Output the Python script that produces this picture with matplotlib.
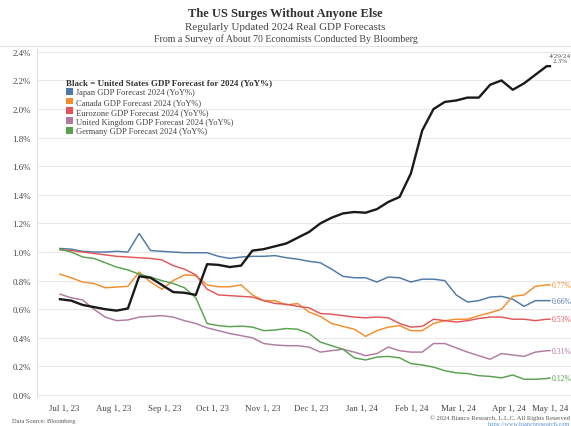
import matplotlib
matplotlib.use("Agg")
import matplotlib.pyplot as plt
import matplotlib.dates as mdates
import matplotlib.transforms as mtransforms
from matplotlib.lines import Line2D
from matplotlib.patches import Patch
import pandas as pd

SERIF = ["Liberation Serif", "DejaVu Serif"]
plt.rcParams["font.family"] = SERIF

# weekly readings of the 2024 forecasts, last point is the latest survey
dates = pd.date_range("2023-07-01", "2024-04-27", freq="7D").append(pd.DatetimeIndex(["2024-04-29"]))

us = [0.67, 0.66, 0.63, 0.615, 0.60, 0.59, 0.605, 0.83, 0.82, 0.77,
      0.72, 0.715, 0.70, 0.915, 0.91, 0.895, 0.905, 1.01, 1.02, 1.04,
      1.06, 1.10, 1.14, 1.20, 1.24, 1.27, 1.28, 1.275, 1.30, 1.35,
      1.385, 1.55, 1.85, 2.00, 2.05, 2.06, 2.08, 2.08, 2.17, 2.20,
      2.135, 2.18, 2.24, 2.30, 2.30]
japan = [1.025, 1.02, 1.005, 1.0, 1.0, 1.005, 1.0, 1.13, 1.01, 1.005,
         1.0, 0.995, 0.995, 0.995, 0.97, 0.955, 0.965, 0.97, 0.97, 0.975,
         0.96, 0.95, 0.935, 0.925, 0.88, 0.83, 0.82, 0.82, 0.79, 0.825,
         0.82, 0.79, 0.81, 0.81, 0.80, 0.70, 0.65, 0.66, 0.685, 0.69,
         0.67, 0.62, 0.66, 0.66, 0.66]
canada = [0.845, 0.82, 0.79, 0.78, 0.75, 0.755, 0.76, 0.86, 0.79, 0.74,
          0.80, 0.84, 0.835, 0.77, 0.757, 0.757, 0.77, 0.70, 0.66, 0.66,
          0.63, 0.64, 0.58, 0.55, 0.50, 0.48, 0.46, 0.41, 0.45, 0.475,
          0.485, 0.45, 0.45, 0.50, 0.52, 0.53, 0.53, 0.555, 0.575, 0.60,
          0.69, 0.70, 0.76, 0.77, 0.77]
eurozone = [1.015, 1.01, 1.0, 0.99, 0.98, 0.97, 0.965, 0.96, 0.955, 0.945,
            0.905, 0.88, 0.84, 0.74, 0.70, 0.695, 0.69, 0.685, 0.66, 0.64,
            0.635, 0.62, 0.61, 0.57, 0.565, 0.555, 0.545, 0.54, 0.545, 0.54,
            0.50, 0.475, 0.48, 0.53, 0.52, 0.51, 0.52, 0.535, 0.545, 0.545,
            0.53, 0.53, 0.52, 0.53, 0.53]
uk = [0.705, 0.68, 0.665, 0.60, 0.545, 0.52, 0.525, 0.545, 0.55, 0.555,
      0.545, 0.52, 0.50, 0.47, 0.45, 0.43, 0.415, 0.40, 0.36, 0.35,
      0.345, 0.345, 0.335, 0.30, 0.31, 0.32, 0.30, 0.275, 0.29, 0.335,
      0.31, 0.30, 0.30, 0.36, 0.36, 0.33, 0.30, 0.275, 0.25, 0.29,
      0.28, 0.27, 0.30, 0.31, 0.31]
germany = [1.02, 1.0, 0.965, 0.955, 0.925, 0.895, 0.875, 0.845, 0.825, 0.80,
           0.78, 0.75, 0.68, 0.50, 0.485, 0.478, 0.482, 0.475, 0.45, 0.455,
           0.465, 0.46, 0.43, 0.37, 0.345, 0.32, 0.26, 0.245, 0.265, 0.27,
           0.26, 0.22, 0.21, 0.195, 0.17, 0.155, 0.15, 0.135, 0.13, 0.12,
           0.14, 0.11, 0.11, 0.115, 0.12]

others = [
    ("Japan GDP Forecast 2024 (YoY%)", japan, "#4e79a7", "0.66%"),
    ("Canada GDP Forecast 2024 (YoY%)", canada, "#f28e2b", "0.77%"),
    ("Eurozone GDP Forecast 2024 (YoY%)", eurozone, "#e15759", "0.53%"),
    ("United Kingdom GDP Forecast 2024 (YoY%)", uk, "#b07aa1", "0.31%"),
    ("Germany GDP Forecast 2024 (YoY%)", germany, "#59a14f", "0.12%"),
]

month_ticks = pd.date_range("2023-07-01", "2024-05-01", freq="MS")
month_labels = ["Jul 1, 23", "Aug 1, 23", "Sep 1, 23", "Oct 1, 23", "Nov 1, 23", "Dec 1, 23",
                "Jan 1, 24", "Feb 1, 24", "Mar 1, 24", "Apr 1, 24", "May 1, 24"]
y_ticks = [0.0, 0.2, 0.4, 0.6, 0.8, 1.0, 1.2, 1.4, 1.6, 1.8, 2.0, 2.2, 2.4]

W, H = 571, 427
fig = plt.figure(figsize=(W / 100, H / 100), dpi=100)
ax = fig.add_axes([36.5 / W, (H - 398) / H, 1 - 36.5 / W, 348 / H])

for label, vals, color, end_txt in others:
    ax.plot(dates, vals, color=color, lw=1.05, zorder=2)
    ax.annotate(end_txt, (dates[-1], vals[-1]), xytext=(1.2, 0), textcoords="offset points",
                ha="left", va="center", fontsize=5.6, color=color)
ax.plot(dates, us, color="#1a1a1a", lw=1.7, zorder=3)
ax.annotate("4/29/24\n2.3%", (dates[-1], us[-1]), xytext=(7.5, 2.5), textcoords="offset points",
            ha="center", va="bottom", fontsize=5.2, color="#555555", linespacing=0.95)

ax.set_xlim(mdates.date2num(pd.Timestamp("2023-06-16 12:00")),
            mdates.date2num(pd.Timestamp("2024-05-12")))
ax.set_ylim(-0.014, 2.42)
ax.set_xticks(month_ticks)
ax.set_xticklabels(month_labels)
ax.set_yticks(y_ticks)
ax.set_yticklabels([f"{v:.1f}%" for v in y_ticks])
ax.tick_params(axis="both", length=0, labelsize=6.4, labelcolor="#444444")
ax.tick_params(axis="x", pad=5)
ax.tick_params(axis="y", pad=4)
ax.grid(axis="y", color="#e8e8e8", lw=0.8)
for side in ["top", "right", "bottom"]:
    ax.spines[side].set_visible(False)
ax.spines["left"].set_color("#e0e0e0")
ax.spines["left"].set_linewidth(0.8)

# date labels sit a little right of their month start (the last one stays inside the frame)
shift = mtransforms.ScaledTranslation(4 / 100, 0, fig.dpi_scale_trans)
for lbl in ax.get_xticklabels()[:-1]:
    lbl.set_transform(lbl.get_transform() + shift)
ax.get_xticklabels()[-1].set_horizontalalignment("right")
ax.get_xticklabels()[-1].set_transform(
    ax.get_xticklabels()[-1].get_transform() + mtransforms.ScaledTranslation(15 / 100, 0, fig.dpi_scale_trans))

handles = [Patch(facecolor=c, edgecolor="none") for _, _, c, _ in others]
leg = ax.legend(handles, [lbl for lbl, _, _, _ in others],
                title="Black = United States GDP Forecast for 2024 (YoY%)",
                loc="upper left", bbox_to_anchor=(62 / W, 1 - 75 / H), bbox_transform=fig.transFigure,
                frameon=False, fontsize=6.1, handlelength=0.85, handleheight=0.85,
                handletextpad=0.35, labelspacing=0.18, borderpad=0, alignment="left",
                title_fontproperties={"weight": "bold", "size": 6.5})
for t in leg.get_texts():
    t.set_color("#444444")
leg.get_title().set_color("#333333")

# header
fig.text(0.5, 1 - 14 / H, "The US Surges Without Anyone Else", ha="center", va="center",
         fontsize=9.0, fontweight="bold", color="#333333")
fig.text(0.5, 1 - 27 / H, "Regularly Updated 2024 Real GDP Forecasts", ha="center", va="center",
         fontsize=7.9, color="#444444")
fig.text(0.5, 1 - 39 / H, "From a Survey of About 70 Economists Conducted By Bloomberg", ha="center",
         va="center", fontsize=7.1, color="#444444")
fig.add_artist(Line2D([0, 1], [1 - 47 / H, 1 - 47 / H], transform=fig.transFigure,
                      color="#e3e3e3", lw=0.8))

# footer
fig.text(12 / W, 1 - 422 / H, "Data Source: Bloomberg", ha="left", va="center", fontsize=4.6, color="#555555")
fig.text(570 / W, 1 - 418 / H, "\u00a9 2024 Bianco Research, L.L.C. All Rights Reserved", ha="right",
         va="center", fontsize=4.7, color="#555555")
fig.text(570 / W, 1 - 425 / H, "https://www.biancoresearch.com", ha="right", va="center",
         fontsize=4.5, color="#5b8fd0")

fig.savefig("out.png", dpi=100)
